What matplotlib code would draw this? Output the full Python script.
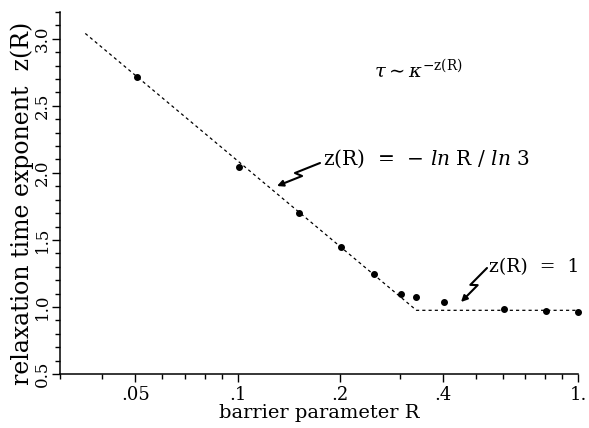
import numpy as np
import matplotlib
matplotlib.use("Agg")
from matplotlib import pyplot as plt
from matplotlib.patches import FancyArrowPatch
from matplotlib.path import Path
from matplotlib.ticker import FixedLocator, MultipleLocator, NullFormatter

plt.rcParams['font.family'] = ['DejaVu Serif']
plt.rcParams['mathtext.fontset'] = 'dejavuserif'

# measured points (barrier parameter R, exponent z)
R_pts = [0.0505, 0.101, 0.151, 0.201, 0.251, 0.302, 0.333, 0.403, 0.605, 0.805, 1.0]
z_pts = [2.714, 2.047, 1.704, 1.450, 1.244, 1.095, 1.072, 1.037, 0.985, 0.972, 0.963]

# dashed guide line: -ln R / ln 3 until R=1/3, then flat
line_R = [0.0356, 0.335, 1.0]
line_z = [3.04, 0.975, 0.975]

x_major = [0.05, 0.1, 0.2, 0.4, 1.0]
x_labels = ['.05', '.1', '.2', '.4', '1.']
x_minor = [0.03, 0.04, 0.06, 0.07, 0.08, 0.09, 0.3, 0.5, 0.6, 0.7, 0.8, 0.9]
y_major = [0.5, 1.0, 1.5, 2.0, 2.5, 3.0]
y_labels = ['0.5', '1.0', '1.5', '2.0', '2.5', '3.0']

W, H = 589, 428
fig = plt.figure(figsize=(W / 100, H / 100), dpi=100)
ax = fig.add_axes([60 / W, (H - 374) / H, 518 / W, 362 / H])

ax.plot(line_R, line_z, color='black', lw=0.9, ls=(0, (2.5, 2.5)))
ax.plot(R_pts, z_pts, 'o', color='black', ms=4, clip_on=False)

ax.set_xscale('log')
ax.set_xlim(0.03, 1.0)
ax.set_ylim(0.5, 3.2)

ax.xaxis.set_major_locator(FixedLocator(x_major))
ax.set_xticklabels(x_labels)
ax.xaxis.set_minor_locator(FixedLocator(x_minor))
ax.xaxis.set_minor_formatter(NullFormatter())
ax.yaxis.set_major_locator(FixedLocator(y_major))
ax.set_yticklabels(y_labels, rotation=90, va='center')
ax.yaxis.set_minor_locator(MultipleLocator(0.1))

for s in ['top', 'right']:
    ax.spines[s].set_visible(False)
for s in ['left', 'bottom']:
    ax.spines[s].set_linewidth(1.1)

ax.tick_params(which='major', direction='out', length=5.5, width=1, labelsize=13, pad=3)
ax.tick_params(which='minor', direction='out', length=3.5, width=1)
ax.tick_params(axis='y', which='major', labelsize=12, pad=1)

ax.set_xlabel('barrier parameter R', fontsize=14, labelpad=0)
ax.set_ylabel('relaxation time exponent  z(R)', fontsize=17)
ax.yaxis.set_label_coords(-0.05, 0.47)

ax.text(0.251, 2.716, r'$\tau \sim \kappa^{-\mathrm{z(R)}}$', fontsize=14, va='baseline')
ax.text(0.178, 2.06, r'z(R)  =  $-$ $\mathit{ln}$ R / $\mathit{ln}$ 3', fontsize=14.5, va='baseline')
ax.text(0.549, 1.261, 'z(R)  =  1', fontsize=13.5, va='baseline')


def bolt(p0, p1):
    # lightning-shaped pointer, pixel coords -> axes fraction
    p0 = np.array(p0, float)
    p1 = np.array(p1, float)
    d = p1 - p0
    n = np.array([-d[1], d[0]]) / np.hypot(*d)
    a = p0 + 0.55 * d + 3 * n
    b = p0 + 0.45 * d - 3 * n
    pts = [p0, a, b, p1]
    verts = [((x - 60) / 518, (374 - y) / 362) for x, y in pts]
    path = Path(verts, [Path.MOVETO] + [Path.LINETO] * 3)
    ax.add_patch(FancyArrowPatch(path=path, transform=ax.transAxes,
                                 arrowstyle='-|>', mutation_scale=9,
                                 color='black', lw=1.5))


bolt((320, 163), (277, 186))
bolt((487, 268), (461, 302))

fig.savefig('out.png', dpi=100)
